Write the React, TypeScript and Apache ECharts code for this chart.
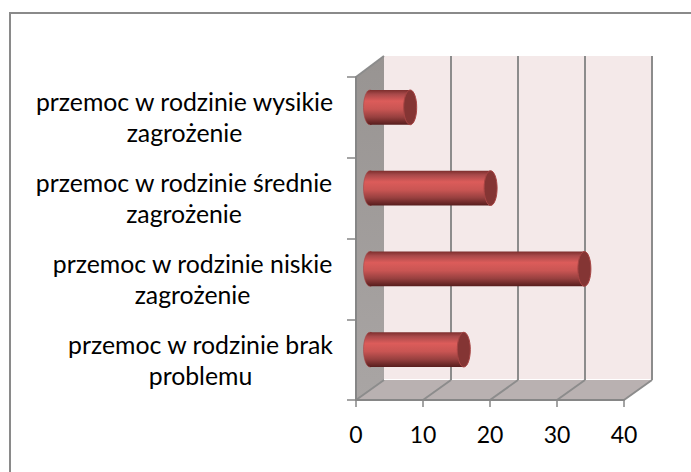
import React, { useEffect, useRef } from "react";
import * as echarts from "echarts";

const categories = [
  "przemoc w rodzinie brak\nproblemu",
  "przemoc w rodzinie niskie\nzagrożenie",
  "przemoc w rodzinie średnie\nzagrożenie",
  "przemoc w rodzinie wysikie\nzagrożenie",
];
const values = [14, 32, 18, 6];
const xTicks = [0, 10, 20, 30, 40];
const labelWidths = [265, 281, 298, 297];

const FONT = "Lato";
const DX = 28;
const DY = -20;

export default function App() {
  const ref = useRef<HTMLDivElement>(null);
  useEffect(() => {
    const chart = echarts.init(ref.current!, undefined, { renderer: "svg" });
    const rich: any = {};
    labelWidths.forEach((w, i) => {
      rich["c" + i] = { width: w, align: "center", fontFamily: FONT, fontSize: 24.8, lineHeight: 31, color: "#000" };
    });
    const barGrad = new echarts.graphic.LinearGradient(0, 0, 0, 1, [
      { offset: 0, color: "#7d2e2d" },
      { offset: 0.12, color: "#a8494a" },
      { offset: 0.32, color: "#dc5c5a" },
      { offset: 0.55, color: "#c95553" },
      { offset: 0.78, color: "#97403f" },
      { offset: 1, color: "#571d1d" },
    ]);
    const option: any = {
      animation: false,
      backgroundColor: "#fff",
      graphic: [
        {
          type: "line",
          shape: { x1: 10, y1: 13, x2: 691, y2: 13 },
          style: { stroke: "#8a8a8a", lineWidth: 2 },
        },
        {
          type: "line",
          shape: { x1: 10, y1: 12, x2: 10, y2: 472 },
          style: { stroke: "#8a8a8a", lineWidth: 2 },
        },
      ],
      grid: { left: 356, right: 67, top: 77, bottom: 72 },
      xAxis: {
        type: "value",
        min: 0,
        max: 40,
        interval: 10,
        splitLine: { show: false },
        axisLine: { show: true, lineStyle: { color: "#868686", width: 2 } },
        axisTick: { show: true, length: 7, lineStyle: { color: "#868686", width: 1.5 } },
        axisLabel: { fontFamily: FONT, fontSize: 23, color: "#000", margin: 22, hideOverlap: false },
        z: 3,
      },
      yAxis: {
        type: "category",
        data: categories,
        axisLine: { show: true, lineStyle: { color: "#868686", width: 2 } },
        axisTick: { show: true, length: 9, lineStyle: { color: "#868686", width: 1.5 } },
        axisLabel: {
          margin: 23,
          interval: 0,
          formatter: (v: string) => {
            const i = categories.indexOf(v);
            return v.split("\n").map((l) => `{c${i}|${l}}`).join("\n");
          },
          rich,
        },
        z: 3,
      },
      series: [
        {
          type: "custom",
          z: 1,
          silent: true,
          data: xTicks.map((t) => [t]),
          encode: { x: 0 },
          renderItem: (params: any, api: any) => {
            const t = api.value(0);
            const p = api.coord([t, 0]);
            const cs = params.coordSys;
            const x0 = cs.x, yT = cs.y, yB = cs.y + cs.height, x1 = cs.x + cs.width;
            const children: any[] = [];
            if (params.dataIndex === 0) {
              children.push(
                { type: "rect", shape: { x: x0 + DX, y: yT + DY - 1, width: cs.width, height: cs.height }, style: { fill: "#f4e9e9" } },
                { type: "polygon", shape: { points: [[x0, yB], [x0 + DX, yB + DY], [x1 + DX, yB + DY], [x1, yB]] }, style: { fill: "#b9b1b1" } },
                {
                  type: "polygon",
                  shape: { points: [[x0, yT], [x0 + DX, yT + DY - 1], [x0 + DX, yB + DY], [x0, yB]] },
                  style: {
                    fill: new echarts.graphic.LinearGradient(0, 0, 0, 1, [
                      { offset: 0, color: "#989492" },
                      { offset: 1, color: "#a9a5a4" },
                    ]),
                  },
                },
              );
            }
            const line = (a: number, b: number, c: number, d: number) => ({
              type: "line",
              shape: { x1: a, y1: b, x2: c, y2: d },
              style: { stroke: "#8c8c8c", lineWidth: 2 },
            });
            if (t > 0) {
              children.push(line(p[0] + DX, yT + DY - 1, p[0] + DX, yB + DY));
              children.push(line(p[0], yB, p[0] + DX, yB + DY));
            } else {
              children.push(line(p[0], yT, p[0] + DX, yT + DY - 1));
              children.push(line(p[0], yB, p[0] + DX, yB + DY));
            }
            return { type: "group", children };
          },
        },
        {
          type: "custom",
          z: 4,
          silent: true,
          data: values.map((v, i) => [v, i]),
          encode: { x: 0, y: 1 },
          renderItem: (params: any, api: any) => {
            const p = api.coord([api.value(0), api.value(1)]);
            const o = api.coord([0, api.value(1)]);
            const h = api.size([0, 1])[1] * 0.43;
            const cy = p[1] + DY / 2;
            const xs = o[0] + DX / 2;
            const xe = p[0] + DX / 2;
            const rx = 6.5;
            const edge = "#a84544";
            return {
              type: "group",
              children: [
                { type: "ellipse", shape: { cx: xs, cy, rx, ry: h / 2 }, style: { fill: barGrad, stroke: edge, lineWidth: 0.6 } },
                { type: "rect", shape: { x: xs, y: cy - h / 2, width: xe - xs, height: h }, style: { fill: barGrad } },
                { type: "ellipse", shape: { cx: xe, cy, rx, ry: h / 2 }, style: { fill: "#843534", stroke: edge, lineWidth: 1 } },
              ],
            };
          },
        },
      ],
    };
    chart.setOption(option);
    return () => chart.dispose();
  }, []);
  return <div ref={ref} style={{ position: "fixed", left: 0, top: 0, width: 691, height: 472 }} />;
}
